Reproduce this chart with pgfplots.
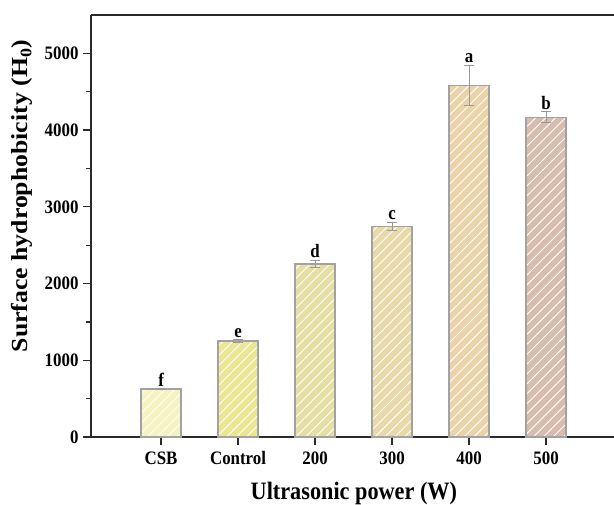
\documentclass[border=0pt]{standalone}
\usepackage{fontspec}
\setmainfont{Liberation Serif}[FakeStretch=0.89]
\newfontfamily\ylabfont{Liberation Serif}[FakeStretch=1.12]
\usepackage{pgfplots}
\pgfplotsset{compat=1.18}
\usetikzlibrary{patterns.meta}
\definecolor{cA}{HTML}{F5F3BF}
\definecolor{cB}{HTML}{EBE694}
\definecolor{cC}{HTML}{E6DFA4}
\definecolor{cD}{HTML}{E8D9A9}
\definecolor{cE}{HTML}{EBD3A9}
\definecolor{cF}{HTML}{D8BCAE}
\definecolor{edge}{HTML}{A2A2A2}
\definecolor{errc}{HTML}{999999}
\definecolor{axcol}{HTML}{2A2A2A}
\pgfplotsset{
  mybar/.style={
    fill=#1, draw=edge, line width=1.3bp,
    postaction={pattern={Lines[angle=45,distance=7bp,line width=0.9bp]}, pattern color=white},
    error bars/y dir=both, error bars/y explicit,
    error bars/error bar style={color=errc, line width=0.9bp},
    error bars/error mark options={rotate=90, mark size=5bp, color=errc, line width=0.9bp},
  },
}
\begin{document}
\begin{tikzpicture}
\begin{axis}[
  name=ax,
  scale only axis,
  width=530bp, height=422bp,
  xmin=-0.91, xmax=5.973,
  ymin=0, ymax=5500,
  ybar, bar width=0.52, bar shift=0pt,
  axis x line*=bottom, axis y line*=left,
  axis line style={-, axcol, line width=1.6bp},
  clip=false,
  tick align=outside,
  major tick length=8bp, minor tick length=5bp,
  tick style={axcol, line width=1.3bp},
  xtick={0,1,2,3,4,5},
  xticklabels={CSB,Control,200,300,400,500},
  ytick={0,1000,2000,3000,4000,5000},
  minor ytick={500,1500,2500,3500,4500},
  /pgf/number format/assume math mode=true,
  /pgf/number format/1000 sep={},
  tick label style={font=\fontsize{19bp}{21bp}\selectfont\bfseries},
  xticklabel style={yshift=-3bp},
  yticklabel style={xshift=-1bp},
  xlabel={Ultrasonic power (W)},
  xlabel style={at={(axis description cs:0.496,0)}, anchor=center, yshift=-56bp,
    font=\fontsize{25bp}{28bp}\selectfont\bfseries},
]
\addplot[mybar=cA] coordinates {(0,625) +- (0,6)};
\addplot[mybar=cB] coordinates {(1,1250) +- (0,18)};
\addplot[mybar=cC] coordinates {(2,2253) +- (0,45)};
\addplot[mybar=cD] coordinates {(3,2745) +- (0,50)};
\addplot[mybar=cE] coordinates {(4,4583) +- (0,265)};
\addplot[mybar=cF] coordinates {(5,4167) +- (0,72)};
% letters above error bars
\addplot[draw=none, fill=none, bar width=0, mark=none,
  nodes near coords, point meta=explicit symbolic,
  every node near coord/.append style={font=\fontsize{19bp}{21bp}\selectfont\bfseries, anchor=south, yshift=-1bp, text=black}]
  table[meta=lab] {
x y lab
0 631 f
1 1268 e
2 2298 d
3 2795 c
4 4848 a
5 4239 b
};
% top frame line
\draw[axcol, line width=1.6bp] (rel axis cs:0,1) -- (rel axis cs:1,1);
\node[rotate=90, anchor=center, font=\ylabfont\fontsize{23bp}{26bp}\selectfont\bfseries]
  at ([xshift=-69bp]axis description cs:0,0.571) {Surface hydrophobicity (H\textsubscript{0})};
\end{axis}
\pgfresetboundingbox
\useasboundingbox (-91bp,-68bp) rectangle (523bp,437bp);
\end{tikzpicture}
\end{document}
